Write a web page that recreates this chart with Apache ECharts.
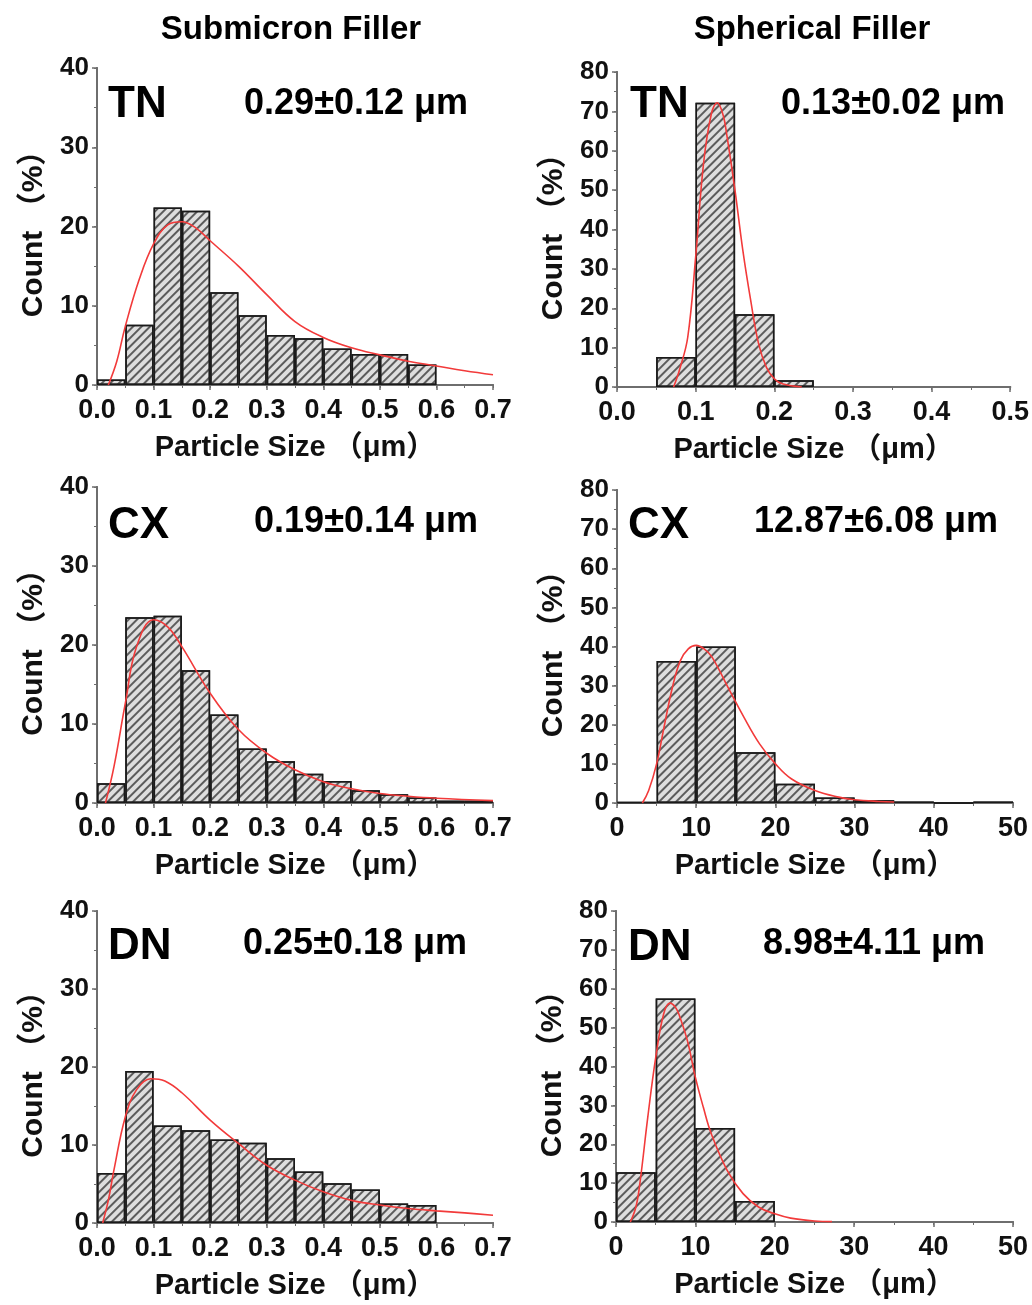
<!DOCTYPE html>
<html lang="en">
<head>
<meta charset="UTF-8">
<title>Particle size distributions</title>
<style>
  html, body { margin: 0; padding: 0; background: #fff; }
  #chart { width: 1032px; height: 1305px; }
</style>
</head>
<body>
<div id="chart"></div>
<script src="https://cdn.jsdelivr.net/npm/echarts@6/dist/echarts.min.js"></script>
<script>
// bins are 0.05 um wide (submicron, TN spherical) or 5 um wide (CX/DN spherical)
const tnSubBins = [0, 0.05, 0.1, 0.15, 0.2, 0.25, 0.3, 0.35, 0.4, 0.45, 0.5, 0.55];
const tnSubCounts = [0.7, 7.6, 22.4, 22.0, 11.7, 8.8, 6.3, 5.9, 4.6, 3.9, 3.9, 2.6];
const tnSubFitX = [0.02, 0.035, 0.05, 0.075, 0.1, 0.125, 0.15, 0.175, 0.2, 0.25, 0.3, 0.35, 0.4, 0.45, 0.5, 0.55, 0.6, 0.65, 0.7];
const tnSubFitY = [0, 3.0, 7.4, 13.4, 17.8, 20.2, 20.6, 19.8, 18.2, 15.0, 11.4, 8.0, 6.0, 4.7, 3.8, 3.0, 2.4, 1.8, 1.3];

const cxSubBins = [0, 0.05, 0.1, 0.15, 0.2, 0.25, 0.3, 0.35, 0.4, 0.45, 0.5, 0.55, 0.6, 0.65];
const cxSubCounts = [2.5, 23.5, 23.7, 16.8, 11.2, 6.9, 5.3, 3.7, 2.8, 1.6, 1.1, 0.7, 0.3, 0.3];
const cxSubFitX = [0.015, 0.03, 0.05, 0.07, 0.1, 0.125, 0.15, 0.2, 0.25, 0.3, 0.35, 0.4, 0.45, 0.5, 0.55, 0.6, 0.7];
const cxSubFitY = [0, 4.6, 12.6, 19.8, 23.2, 22.3, 19.8, 13.9, 9.3, 6.3, 4.2, 2.7, 1.8, 1.2, 0.85, 0.6, 0.3];

const dnSubBins = [0, 0.05, 0.1, 0.15, 0.2, 0.25, 0.3, 0.35, 0.4, 0.45, 0.5, 0.55];
const dnSubCounts = [6.4, 19.5, 12.5, 11.9, 10.7, 10.3, 8.3, 6.6, 5.1, 4.3, 2.5, 2.3];
const dnSubFitX = [0.01, 0.02, 0.03, 0.05, 0.07, 0.095, 0.12, 0.15, 0.2, 0.25, 0.3, 0.35, 0.4, 0.45, 0.5, 0.55, 0.6, 0.65, 0.7];
const dnSubFitY = [0, 2.9, 6.8, 13.6, 17.1, 18.5, 18.2, 16.7, 13.2, 10.2, 7.4, 5.5, 4.0, 2.9, 2.3, 1.85, 1.55, 1.3, 1.0];

const tnSphBins = [0.05, 0.1, 0.15, 0.2];
const tnSphCounts = [7.6, 72.2, 18.5, 1.7];
const tnSphFitX = [0.072, 0.08, 0.09, 0.1, 0.11, 0.12, 0.1275, 0.135, 0.14, 0.15, 0.16, 0.17, 0.18, 0.19, 0.2, 0.21, 0.235];
const tnSphFitY = [0, 4.7, 12.7, 33, 56.7, 69.4, 72.2, 69, 63.5, 50, 34.7, 22, 11, 5, 2.1, 0.8, 0];

const cxSphBins = [0, 5, 10, 15, 20, 25, 30, 35, 40, 45];
const cxSphCounts = [0.2, 36.3, 40.0, 13.0, 4.9, 1.4, 0.7, 0.4, 0, 0.4];
const cxSphFitX = [3.2, 4, 5, 6, 7, 8, 9, 10, 11, 12, 14, 16, 18, 20, 22, 25, 28, 30, 33, 35];
const cxSphFitY = [0, 3.2, 10, 20, 29.6, 36.4, 39.4, 40.3, 39.4, 37.3, 29.6, 22, 15.1, 10, 6.2, 3.2, 1.5, 0.85, 0.4, 0.25];

const dnSphBins = [0, 5, 10, 15];
const dnSphCounts = [12.8, 57.5, 24.2, 5.4];
const dnSphFitX = [1.8, 2.5, 3, 4, 5, 6, 6.8, 7.5, 8, 9, 10, 11, 12, 14, 16, 18, 20, 22, 25, 27.2];
const dnSphFitY = [0, 3.8, 9.8, 26.9, 42.3, 53.5, 56.3, 55.2, 53, 46.6, 37.2, 29.5, 22.7, 13.3, 7.3, 3.8, 2.1, 1.0, 0.25, 0.1];

const panelNames = ['TN', 'TN', 'CX', 'CX', 'DN', 'DN'];
const panelMeans = ['0.29±0.12 μm', '0.13±0.02 μm', '0.19±0.14 μm', '12.87±6.08 μm', '0.25±0.18 μm', '8.98±4.11 μm'];
const columnTitles = ['Submicron Filler', 'Spherical Filler'];

const FONT = '"Liberation Sans", Arial, "Noto Sans CJK SC", sans-serif';
const AXIS_GRAY = '#6e6e6e';

// layout of each panel
const panels = [
  { bins: tnSubBins, counts: tnSubCounts, fx: tnSubFitX, fy: tnSubFitY, bw: 0.05, xmax: 0.7, xint: 0.1, ymax: 40, dec: 1,
    grid: { left: 97, top: 68, width: 396, height: 317 }, nameX: 108, nameY: 105, meanX: 468, meanY: 104 },
  { bins: tnSphBins, counts: tnSphCounts, fx: tnSphFitX, fy: tnSphFitY, bw: 0.05, xmax: 0.5, xint: 0.1, ymax: 80, dec: 1,
    grid: { left: 617, top: 72, width: 396, height: 315 }, nameX: 630, nameY: 105, meanX: 1005, meanY: 104 },
  { bins: cxSubBins, counts: cxSubCounts, fx: cxSubFitX, fy: cxSubFitY, bw: 0.05, xmax: 0.7, xint: 0.1, ymax: 40, dec: 1,
    grid: { left: 97, top: 487, width: 396, height: 316 }, nameX: 108, nameY: 526, meanX: 478, meanY: 522 },
  { bins: cxSphBins, counts: cxSphCounts, fx: cxSphFitX, fy: cxSphFitY, bw: 5, xmax: 50, xint: 10, ymax: 80, dec: 0,
    grid: { left: 617, top: 490, width: 396, height: 313 }, nameX: 628, nameY: 526, meanX: 998, meanY: 522 },
  { bins: dnSubBins, counts: dnSubCounts, fx: dnSubFitX, fy: dnSubFitY, bw: 0.05, xmax: 0.7, xint: 0.1, ymax: 40, dec: 1,
    grid: { left: 97, top: 911, width: 396, height: 312 }, nameX: 108, nameY: 947, meanX: 467, meanY: 944 },
  { bins: dnSphBins, counts: dnSphCounts, fx: dnSphFitX, fy: dnSphFitY, bw: 5, xmax: 50, xint: 10, ymax: 80, dec: 0,
    grid: { left: 616, top: 911, width: 397, height: 311 }, nameX: 628, nameY: 948, meanX: 985, meanY: 944 }
];

const grids = [], xAxes = [], yAxes = [], series = [], graphics = [];

panels.forEach((p, i) => {
  grids.push(p.grid);
  const dec = p.dec;
  // bottom axis
  xAxes.push({
    type: 'value', gridIndex: i, min: 0, max: p.xmax, interval: p.xint, position: 'bottom',
    name: 'Particle Size （μm）', nameLocation: 'middle', nameGap: 48,
    nameTextStyle: { fontFamily: FONT, fontWeight: 'bold', fontSize: 29, color: '#111' },
    axisLine: { lineStyle: { color: AXIS_GRAY, width: 2 } },
    axisTick: { length: 5, lineStyle: { color: AXIS_GRAY, width: 1.5 } },
    minorTick: { show: true, splitNumber: 2, length: 3, lineStyle: { color: AXIS_GRAY } },
    splitLine: { show: false },
    axisLabel: { fontFamily: FONT, fontWeight: 'bold', fontSize: 27, color: '#111', margin: 12,
      formatter: v => v.toFixed(dec) }
  });
  // top frame
  xAxes.push({
    type: 'value', gridIndex: i, min: 0, max: p.xmax, interval: p.xint, position: 'top',
    axisLine: { lineStyle: { color: AXIS_GRAY, width: 2 } },
    axisTick: { inside: true, length: 3, lineStyle: { color: AXIS_GRAY } },
    axisLabel: { show: false }, splitLine: { show: false }
  });
  yAxes.push({
    type: 'value', gridIndex: i, min: 0, max: p.ymax, interval: 10, position: 'left',
    name: 'Count （%）', nameLocation: 'middle', nameGap: 48, nameRotate: 90,
    nameTextStyle: { fontFamily: FONT, fontWeight: 'bold', fontSize: 30, color: '#111' },
    axisLine: { show: true, lineStyle: { color: AXIS_GRAY, width: 2 } },
    axisTick: { show: true, length: 5, lineStyle: { color: AXIS_GRAY, width: 1.5 } },
    minorTick: { show: true, splitNumber: 2, length: 3, lineStyle: { color: AXIS_GRAY } },
    splitLine: { show: false },
    axisLabel: { fontFamily: FONT, fontWeight: 'bold', fontSize: 26, color: '#111', margin: 8 }
  });
  yAxes.push({
    type: 'value', gridIndex: i, min: 0, max: p.ymax, interval: 10, position: 'right',
    axisLine: { show: true, lineStyle: { color: AXIS_GRAY, width: 2 } },
    axisTick: { show: true, inside: true, length: 3, lineStyle: { color: AXIS_GRAY } },
    axisLabel: { show: false }, splitLine: { show: false }
  });

  const barPx = p.grid.width * p.bw / p.xmax;
  series.push({
    type: 'bar', xAxisIndex: i * 2, yAxisIndex: i * 2, barWidth: barPx,
    data: p.bins.map((b, k) => [b + p.bw / 2, p.counts[k]]),
    itemStyle: {
      color: '#dedede', borderColor: '#1a1a1a', borderWidth: 1.5,
      decal: { symbol: 'rect', symbolSize: 1, dashArrayX: [1, 0], dashArrayY: [1.1, 3.2], rotation: -Math.PI / 4, color: 'rgba(60,60,60,0.8)' }
    },
    z: 2
  });
  series.push({
    type: 'line', xAxisIndex: i * 2, yAxisIndex: i * 2, smooth: 0.4, showSymbol: false,
    data: p.fx.map((x, k) => [x, p.fy[k]]),
    lineStyle: { color: '#f23a3a', width: 1.6 }, z: 3
  });

  graphics.push({ type: 'text', x: p.nameX, y: p.nameY,
    style: { text: panelNames[i], font: 'bold 44px ' + FONT, fill: '#000', textAlign: 'left', textVerticalAlign: 'middle' } });
  graphics.push({ type: 'text', x: p.meanX, y: p.meanY,
    style: { text: panelMeans[i], font: 'bold 36px ' + FONT, fill: '#000', textAlign: 'right', textVerticalAlign: 'middle' } });
});

graphics.push({ type: 'text', x: 291, y: 30,
  style: { text: columnTitles[0], font: 'bold 33px ' + FONT, fill: '#000', textAlign: 'center', textVerticalAlign: 'middle' } });
graphics.push({ type: 'text', x: 812, y: 30,
  style: { text: columnTitles[1], font: 'bold 33px ' + FONT, fill: '#000', textAlign: 'center', textVerticalAlign: 'middle' } });

const chart = echarts.init(document.getElementById('chart'));
chart.setOption({
  animation: false,
  backgroundColor: '#fff',
  grid: grids,
  xAxis: xAxes,
  yAxis: yAxes,
  series: series,
  graphic: graphics
});
</script>
</body>
</html>
